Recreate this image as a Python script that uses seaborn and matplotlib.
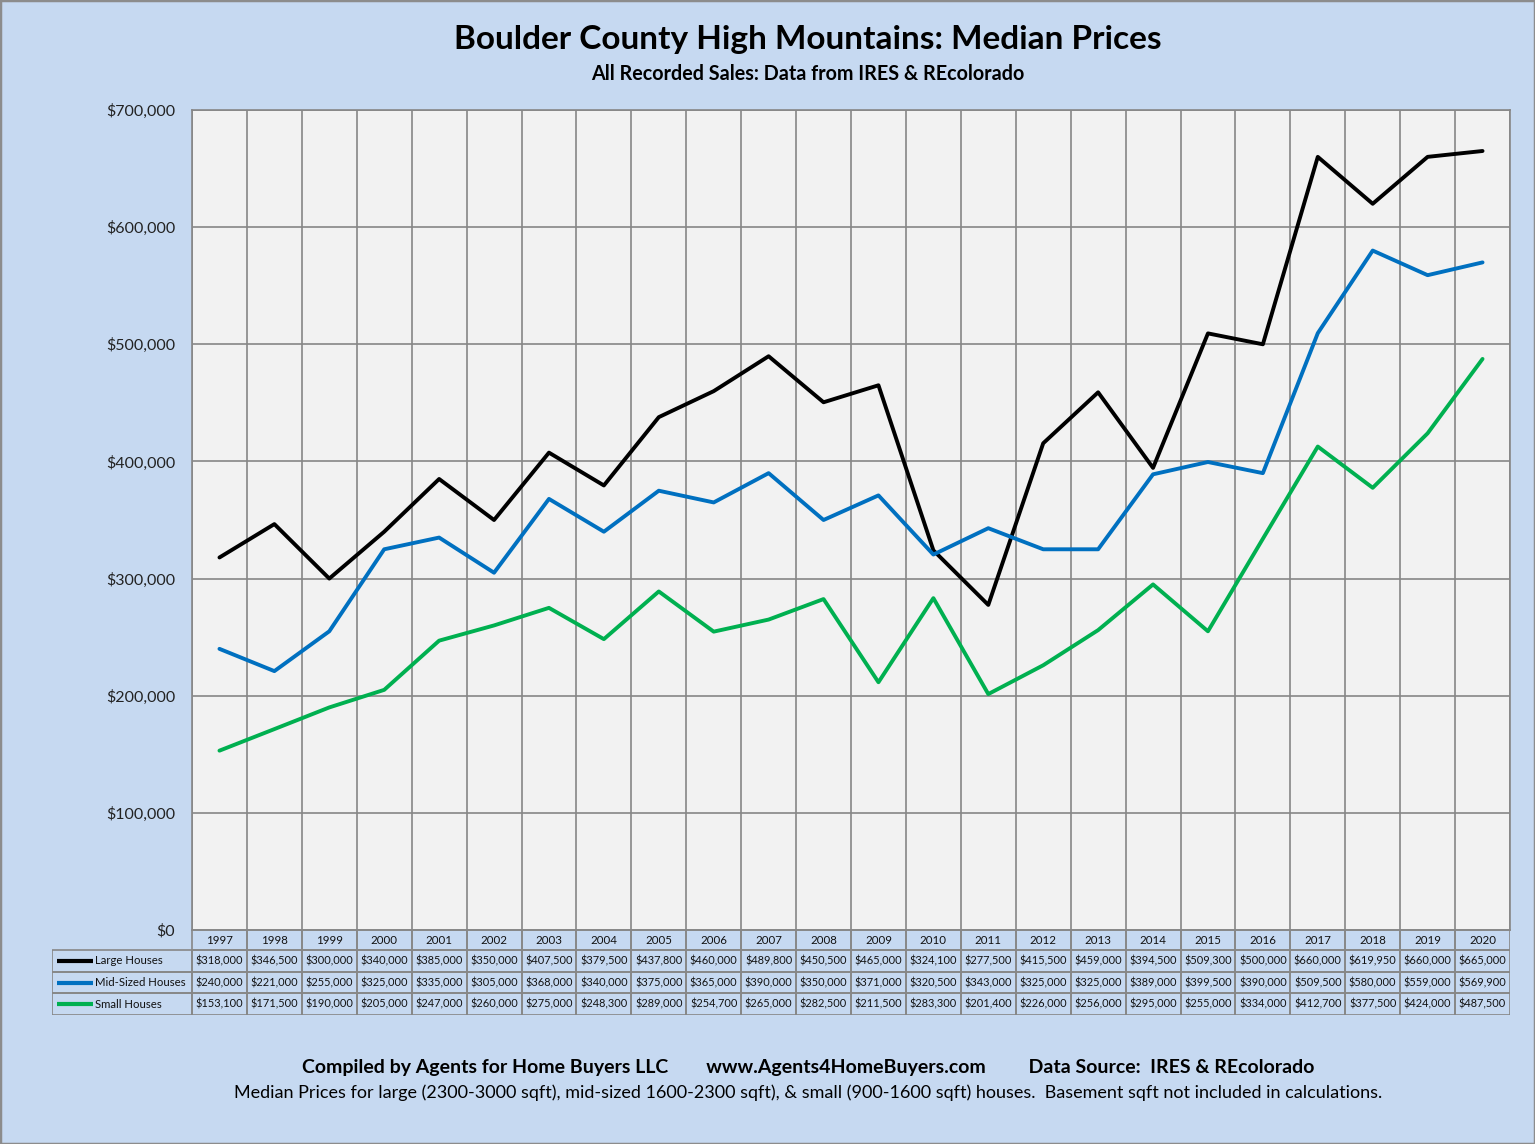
import numpy as np
import pandas as pd
import matplotlib
matplotlib.use("Agg")
import matplotlib.pyplot as plt
import seaborn as sns
from matplotlib.ticker import FuncFormatter, MultipleLocator
from matplotlib.patches import Rectangle

# data (from the table under the chart)
years = list(range(1997, 2021))
large = [318000, 346500, 300000, 340000, 385000, 350000, 407500, 379500, 437800, 460000, 489800, 450500,
         465000, 324100, 277500, 415500, 459000, 394500, 509300, 500000, 660000, 619950, 660000, 665000]
mid = [240000, 221000, 255000, 325000, 335000, 305000, 368000, 340000, 375000, 365000, 390000, 350000,
       371000, 320500, 343000, 325000, 325000, 389000, 399500, 390000, 509500, 580000, 559000, 569900]
small = [153100, 171500, 190000, 205000, 247000, 260000, 275000, 248300, 289000, 254700, 265000, 282500,
         211500, 283300, 201400, 226000, 256000, 295000, 255000, 334000, 412700, 377500, 424000, 487500]
series_names = ["Large Houses", "Mid-Sized Houses", "Small Houses"]
series_colors = ["#000000", "#0070C0", "#00B050"]

df = pd.DataFrame({
    "pos": list(range(len(years))) * 3,
    "price": large + mid + small,
    "series": np.repeat(series_names, len(years)),
})

sns.set_style("white")
plt.rcParams["font.family"] = ["Lato", "DejaVu Sans"]

BG = "#C6D9F1"
GRID = "#878787"
W, H = 1535, 1144
fig = plt.figure(figsize=(W / 100, H / 100), dpi=100)
fig.patch.set_facecolor(BG)


def px_axes(x0, y0, x1, y1):
    return fig.add_axes([x0 / W, 1 - y1 / H, (x1 - x0) / W, (y1 - y0) / H])


ax = px_axes(192, 110, 1510, 930)
ax.set_facecolor("#F2F2F2")
sns.lineplot(data=df, x="pos", y="price", hue="series",
             palette=dict(zip(series_names, series_colors)),
             linewidth=2.8, legend=False, ax=ax, zorder=3)

ax.set_xlim(-0.5, len(years) - 0.5)
ax.set_ylim(0, 700000)
ax.set_xticks(np.arange(-0.5, len(years), 1))
ax.set_xticklabels([])
ax.yaxis.set_major_locator(MultipleLocator(100000))
ax.yaxis.set_major_formatter(FuncFormatter(lambda v, p: f"${v:,.0f}"))
ax.tick_params(axis="x", length=0)
ax.tick_params(axis="y", length=6, width=1.2, color=GRID, labelsize=11.5, pad=6, labelcolor="#222222")
ax.grid(True, color=GRID, linewidth=1.2)
ax.set_axisbelow(True)
for s in ax.spines.values():
    s.set_color(GRID)
    s.set_linewidth(1.2)
ax.set_xlabel("")
ax.set_ylabel("")

# data table below the plot
tax = px_axes(52, 930, 1510, 1015)
u = len(years) / 1318.0
xl = -0.5 - 140 * u
tax.set_xlim(xl, len(years) - 0.5)
tax.set_ylim(85, 0)
tax.axis("off")
tax.patch.set_alpha(0)

hdr = 20
rh = (85 - hdr) / 3.0
for i, yr in enumerate(years):
    tax.add_patch(Rectangle((i - 0.5, 0), 1, hdr, fill=False, edgecolor=GRID, lw=1.2))
    tax.text(i, hdr / 2, str(yr), ha="center", va="center", fontsize=8.3, color="#111111")

rows = [large, mid, small]
for r, (name, col, vals) in enumerate(zip(series_names, series_colors, rows)):
    y0 = hdr + r * rh
    yc = y0 + rh / 2
    tax.add_patch(Rectangle((xl, y0), -0.5 - xl, rh, fill=False, edgecolor=GRID, lw=1.2))
    tax.plot([xl + 5 * u, xl + 41 * u], [yc, yc], color=col, lw=3, solid_capstyle="butt")
    tax.text(xl + 43 * u, yc, name, ha="left", va="center", fontsize=8.2, color="#111111")
    for i, v in enumerate(vals):
        tax.add_patch(Rectangle((i - 0.5, y0), 1, rh, fill=False, edgecolor=GRID, lw=1.2))
        tax.text(i, yc, f"${v:,.0f}", ha="center", va="center", fontsize=7.9, color="#111111")

# titles and footer
fig.text(808 / W, 1 - 40 / H, "Boulder County High Mountains: Median Prices",
         ha="center", va="center", fontsize=24, fontweight="bold", color="#000000")
fig.text(808 / W, 1 - 74 / H, "All Recorded Sales: Data from IRES & REcolorado",
         ha="center", va="center", fontsize=14.2, fontweight="bold", color="#000000")
fig.text(808 / W, 1 - 1068 / H,
         "Compiled by Agents for Home Buyers LLC        www.Agents4HomeBuyers.com         Data Source:  IRES & REcolorado",
         ha="center", va="center", fontsize=14, fontweight="bold", color="#000000")
fig.text(808 / W, 1 - 1093 / H,
         "Median Prices for large (2300-3000 sqft), mid-sized 1600-2300 sqft), & small (900-1600 sqft) houses.  Basement sqft not included in calculations.",
         ha="center", va="center", fontsize=13.0, color="#000000")

fig.patches.append(Rectangle((0, 0), 1, 1, transform=fig.transFigure, fill=False,
                             edgecolor="#8C8C8C", lw=2.5))

fig.savefig("out.png", dpi=100, facecolor=BG)
